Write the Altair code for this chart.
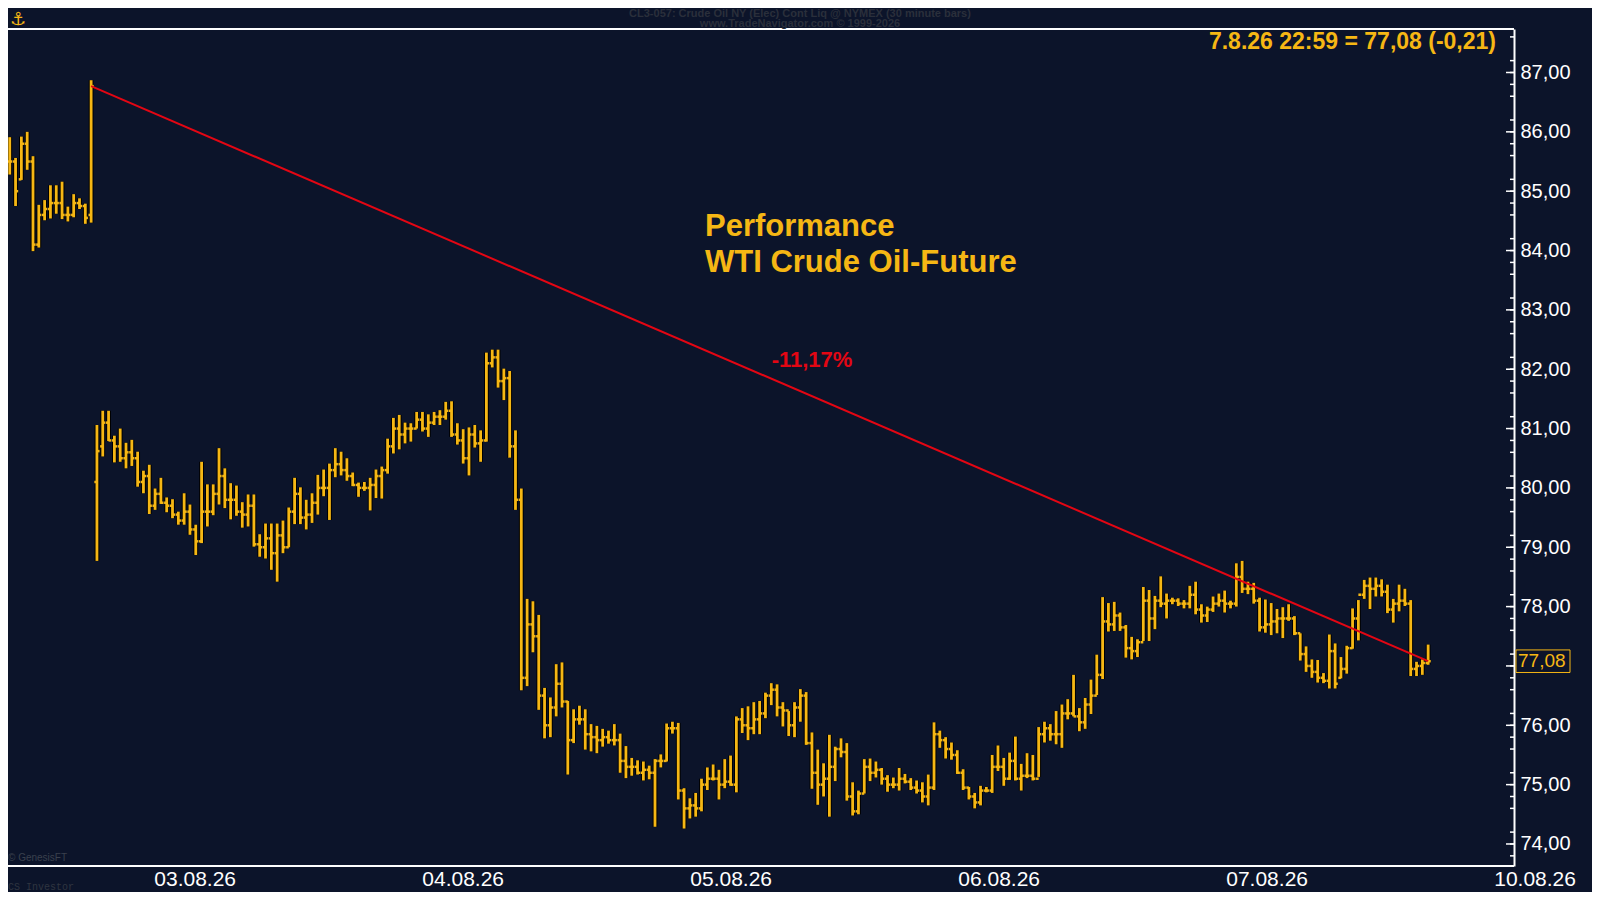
import altair as alt
import pandas as pd

# ---------------- data (30-minute OHLC bars) ----------------
high = [
    85.91, 85.56, 85.92, 86.00, 85.59, 84.77, 84.85, 85.10, 85.10, 85.16, 84.74, 84.95, 84.88, 84.79, 86.87,
    81.06, 81.30, 81.30, 80.88, 81.00, 80.76, 80.81, 80.61, 80.29, 80.39, 79.99, 80.17, 79.84, 79.81, 79.60,
    79.91, 79.72, 79.38, 80.44, 80.06, 80.06, 80.67, 80.33, 80.08, 80.04, 79.76, 79.89, 79.89, 79.22, 79.40,
    79.40, 79.40, 79.45, 79.67, 80.17, 80.01, 79.80, 79.91, 80.22, 80.31, 80.41, 80.67, 80.61, 80.50, 80.26,
    80.09, 80.10, 80.17, 80.31, 80.36, 80.83, 81.18, 81.23, 81.10, 81.09, 81.28, 81.28, 81.24, 81.28, 81.31,
    81.45, 81.46, 81.09, 80.99, 81.02, 81.06, 80.97, 82.28, 82.33, 82.33, 82.01, 81.97, 80.97, 79.99, 78.13,
    78.09, 77.86, 76.63, 76.47, 77.03, 77.06, 76.41, 76.27, 76.33, 76.27, 76.02, 75.99, 75.94, 75.91, 76.02,
    75.86, 75.65, 75.45, 75.41, 75.39, 75.32, 75.43, 75.51, 76.03, 76.06, 76.04, 74.94, 74.77, 74.86, 75.10,
    75.29, 75.34, 75.25, 75.43, 75.49, 76.15, 76.29, 76.32, 76.39, 76.41, 76.55, 76.71, 76.69, 76.39, 76.24,
    76.39, 76.61, 76.56, 75.88, 75.59, 75.36, 75.84, 75.64, 75.78, 75.70, 75.04, 74.90, 75.43, 75.44, 75.39,
    75.28, 75.16, 75.12, 75.28, 75.18, 75.11, 75.07, 75.04, 75.17, 76.05, 75.91, 75.80, 75.71, 75.58, 75.26,
    74.96, 74.86, 74.98, 74.96, 75.50, 75.66, 75.45, 75.54, 75.81, 75.35, 75.53, 75.50, 75.97, 76.06, 76.02,
    76.24, 76.35, 76.44, 76.85, 76.29, 76.46, 76.77, 77.19, 78.16, 78.06, 78.08, 77.90, 77.69, 77.49, 77.45,
    78.33, 78.28, 78.18, 78.51, 78.22, 78.15, 78.14, 78.11, 78.35, 78.42, 78.04, 78.00, 78.17, 78.22, 78.27,
    78.10, 78.73, 78.77, 78.42, 78.40, 78.15, 78.12, 78.06, 77.96, 77.99, 78.04, 77.84, 77.55, 77.33, 77.11,
    77.10, 76.88, 77.53, 77.38, 77.15, 77.34, 77.97, 78.11, 78.45, 78.49, 78.49, 78.46, 78.37, 78.13, 78.37,
    78.30, 78.11, 77.07, 77.11, 77.36,
]
low = [
    85.28, 84.75, 85.19, 85.36, 83.99, 84.05, 84.51, 84.54, 84.62, 84.53, 84.49, 84.56, 84.70, 84.45, 84.47,
    78.77, 80.53, 80.79, 80.43, 80.44, 80.33, 80.37, 80.02, 79.91, 79.56, 79.63, 79.73, 79.59, 79.49, 79.38,
    79.38, 79.21, 78.87, 79.07, 79.35, 79.54, 79.72, 79.66, 79.47, 79.53, 79.33, 79.35, 79.01, 78.84, 78.81,
    78.62, 78.42, 78.90, 79.00, 79.39, 79.39, 79.30, 79.41, 79.55, 79.86, 79.46, 80.18, 80.21, 80.12, 80.03,
    79.85, 79.95, 79.62, 79.83, 79.82, 80.24, 80.58, 80.65, 80.75, 80.78, 81.00, 80.95, 80.86, 81.06, 81.06,
    81.15, 80.86, 80.73, 80.41, 80.21, 80.68, 80.44, 80.78, 82.03, 81.69, 81.48, 80.51, 79.63, 76.59, 76.66,
    77.23, 76.26, 75.78, 75.80, 76.15, 76.30, 75.17, 75.70, 76.01, 75.59, 75.56, 75.53, 75.64, 75.69, 75.66,
    75.20, 75.11, 75.15, 75.17, 75.07, 75.09, 74.29, 75.29, 75.39, 75.86, 74.75, 74.26, 74.43, 74.46, 74.55,
    74.91, 75.07, 74.75, 74.94, 74.98, 74.87, 75.87, 75.75, 75.85, 75.85, 76.12, 76.34, 76.15, 75.98, 75.82,
    75.80, 76.06, 75.67, 74.93, 74.66, 74.80, 74.46, 75.06, 75.46, 74.73, 74.48, 74.50, 74.85, 75.06, 75.12,
    75.00, 74.88, 74.94, 74.90, 75.02, 74.91, 74.85, 74.70, 74.65, 74.91, 75.62, 75.44, 75.42, 75.18, 74.91,
    74.75, 74.60, 74.65, 74.87, 74.86, 75.23, 74.98, 75.08, 75.07, 74.90, 75.11, 75.07, 75.13, 75.71, 75.74,
    75.68, 75.62, 76.10, 76.15, 75.90, 75.94, 76.19, 76.51, 76.78, 77.58, 77.59, 77.59, 77.14, 77.11, 77.15,
    77.42, 77.42, 77.62, 77.99, 77.80, 78.04, 78.01, 77.97, 77.97, 77.87, 77.73, 77.74, 77.91, 78.00, 77.90,
    77.97, 78.00, 78.23, 78.21, 78.05, 77.58, 77.56, 77.52, 77.55, 77.47, 77.76, 77.52, 77.09, 76.90, 76.80,
    76.72, 76.71, 76.62, 76.62, 76.79, 76.87, 77.29, 77.43, 78.13, 77.96, 78.17, 78.17, 77.89, 77.73, 77.92,
    78.01, 76.83, 76.83, 76.85, 77.02,
]
opens = [
    85.5, 85.5, 85.2, 85.8, 85.5, 84.1, 84.6, 84.7, 84.8, 84.8, 84.6, 84.6, 84.8, 84.75, 84.6,
    80.1, 80.7, 81.1, 80.8, 80.7, 80.5, 80.6, 80.5, 80.1, 80.2, 79.7, 79.9, 79.75, 79.7, 79.55,
    79.45, 79.6, 79.3, 79.1, 79.6, 79.6, 79.9, 80.2, 79.8, 79.8, 79.6, 79.55, 79.7, 79.05, 79.0,
    79.15, 78.9, 79.2, 79.0, 79.6, 79.9, 79.5, 79.55, 79.75, 80.0, 80.0, 80.3, 80.4, 80.3, 80.2,
    80.05, 80.0, 80.0, 80.05, 80.2, 80.3, 80.7, 81.0, 80.9, 81.0, 81.0, 81.15, 81.0, 81.1, 81.2,
    81.2, 81.3, 80.9, 80.8, 80.5, 80.9, 80.75, 80.8, 82.1, 82.2, 81.8, 81.85, 80.7, 79.8, 76.8,
    77.7, 77.5, 76.5, 76.0, 76.3, 76.7, 76.4, 75.75, 76.1, 76.1, 75.85, 75.8, 75.75, 75.8, 75.75,
    75.75, 75.4, 75.3, 75.3, 75.2, 75.25, 75.2, 75.4, 75.4, 75.95, 75.95, 74.9, 74.6, 74.65, 74.6,
    75.0, 75.1, 75.1, 75.0, 75.05, 75.0, 76.1, 76.0, 75.95, 76.1, 76.2, 76.5, 76.6, 76.3, 76.25,
    76.0, 76.3, 76.5, 75.7, 75.2, 75.0, 75.1, 75.3, 75.6, 75.55, 74.8, 74.55, 74.85, 75.3, 75.2,
    75.25, 75.1, 75.0, 75.0, 75.1, 75.05, 74.95, 74.9, 74.8, 74.95, 75.85, 75.75, 75.6, 75.5, 75.2,
    74.95, 74.8, 74.7, 74.9, 74.9, 75.3, 75.3, 75.1, 75.4, 75.1, 75.15, 75.15, 75.1, 75.85, 75.95,
    75.85, 75.85, 76.2, 76.2, 76.15, 76.05, 76.35, 76.5, 76.85, 77.75, 77.7, 77.85, 77.65, 77.3, 77.25,
    77.4, 78.1, 77.8, 78.1, 78.05, 78.1, 78.1, 78.05, 78.05, 78.2, 77.95, 77.85, 77.95, 78.05, 78.1,
    78.05, 78.05, 78.5, 78.3, 78.3, 78.1, 77.65, 77.7, 77.75, 77.8, 77.8, 77.8, 77.55, 77.2, 77.0,
    76.9, 76.8, 76.75, 77.25, 76.8, 76.95, 77.3, 77.8, 78.2, 78.35, 78.3, 78.35, 78.25, 77.95, 78.05,
    78.1, 78.05, 76.95, 77.0, 77.05,
]
closes = [
    85.5, 85.0, 85.8, 85.5, 84.1, 84.6, 84.7, 84.8, 84.8, 84.6, 84.6, 84.8, 84.75, 84.55, 86.77,
    80.62, 81.1, 80.8, 80.7, 80.5, 80.6, 80.5, 80.1, 80.2, 79.7, 79.9, 79.75, 79.7, 79.55, 79.45,
    79.6, 79.3, 79.1, 79.6, 79.6, 79.9, 80.2, 79.8, 79.8, 79.6, 79.55, 79.7, 79.05, 79.0, 79.15,
    78.9, 79.2, 79.0, 79.6, 79.9, 79.5, 79.55, 79.75, 80.0, 80.0, 80.3, 80.4, 80.3, 80.2, 80.05,
    80.0, 80.0, 80.05, 80.2, 80.3, 80.7, 81.0, 80.9, 81.0, 81.0, 81.15, 81.0, 81.1, 81.2, 81.2,
    81.3, 80.9, 80.8, 80.5, 80.9, 80.75, 80.8, 82.1, 82.2, 81.8, 81.85, 80.7, 79.8, 76.8, 77.7,
    77.5, 76.5, 76.0, 76.3, 76.7, 76.4, 75.75, 76.1, 76.1, 75.85, 75.8, 75.75, 75.8, 75.75, 75.75,
    75.4, 75.3, 75.3, 75.2, 75.25, 75.2, 75.4, 75.4, 75.95, 75.95, 74.9, 74.6, 74.65, 74.6, 75.0,
    75.1, 75.1, 75.0, 75.05, 75.0, 76.1, 76.0, 75.95, 76.1, 76.2, 76.5, 76.6, 76.3, 76.25, 76.0,
    76.3, 76.5, 75.7, 75.2, 75.0, 75.1, 75.3, 75.6, 75.55, 74.8, 74.55, 74.85, 75.3, 75.2, 75.25,
    75.1, 75.0, 75.0, 75.1, 75.05, 74.95, 74.9, 74.8, 74.95, 75.85, 75.75, 75.6, 75.5, 75.2, 74.95,
    74.8, 74.7, 74.9, 74.9, 75.3, 75.3, 75.1, 75.4, 75.1, 75.15, 75.15, 75.1, 75.85, 75.95, 75.85,
    75.85, 76.2, 76.2, 76.15, 76.05, 76.35, 76.5, 76.85, 77.75, 77.7, 77.85, 77.65, 77.3, 77.25, 77.4,
    78.1, 77.8, 78.1, 78.05, 78.1, 78.1, 78.05, 78.05, 78.2, 77.95, 77.85, 77.95, 78.05, 78.1, 78.05,
    78.05, 78.5, 78.3, 78.3, 78.1, 77.65, 77.7, 77.75, 77.8, 77.8, 77.8, 77.55, 77.2, 77.0, 76.9,
    76.8, 76.75, 77.25, 76.7, 76.95, 77.3, 77.8, 78.2, 78.35, 78.3, 78.35, 78.25, 77.95, 78.05, 78.1,
    78.05, 76.95, 77.0, 77.05, 77.08,
]
bar_index = list(range(len(high)))

# performance line (from close of the spike bar to the last close)
perf_index = [14, 244]
perf_price = [86.77, 77.08]

# axis ticks / labels
y_major = [74, 75, 76, 77, 78, 79, 80, 81, 82, 83, 84, 85, 86, 87]
y_minor = [round(73.8 + 0.2 * k, 1) for k in range(70) if (2 + k) % 5 != 0]
x_label_pos = [31.9, 78.0, 124.1, 170.2, 216.3, 262.4]
x_label_txt = ["03.08.26", "04.08.26", "05.08.26", "06.08.26", "07.08.26", "10.08.26"]

last_price = [77.08]
info_text = ["7.8.26 22:59 = 77,08 (-0,21)"]
title_lines = ["Performance", "WTI Crude Oil-Future"]
perf_label = ["-11,17%"]
header_lines = ["CL3-057:  Crude Oil NY (Elec) Cont Liq @ NYMEX  (30 minute bars)",
                "www.TradeNavigator.com \u00a9 1999-2026"]

# ---------------- styling ----------------
W, H = 1506, 837
BG = "#0c142a"
GOLD = "#f6b714"
RED = "#e30613"
FONT = "Liberation Sans"

xs = alt.Scale(domain=[-0.3, 258.77], nice=False, zero=False)
ys = alt.Scale(domain=[73.629, 87.733], nice=False, zero=False)

# the 77,00 label sits under the last-price box, as in the original
y_axis = alt.Axis(
    orient="right", values=y_major,
    labelExpr="datum.value == 77 ? '' : replace(format(datum.value, '.2f'), '.', ',')",
    labelColor="white", labelFontSize=20, labelFont=FONT, labelPadding=6,
    domainColor="white", domainWidth=2, ticks=False, grid=False, title="",
)


def Y(field):
    return alt.Y(field, scale=ys, axis=y_axis)


def X(field):
    return alt.X(field, scale=xs, axis=None)


df = pd.DataFrame({"i": bar_index, "o": opens, "h": high, "l": low, "c": closes})
base = alt.Chart(df).transform_calculate(xo="datum.i - 0.45", xc="datum.i + 0.45")

outline = base.mark_rule(color="#000000", strokeWidth=4.8).encode(x=X("i:Q"), y=Y("l:Q"), y2="h:Q")
body = base.mark_rule(color=GOLD, strokeWidth=2.8).encode(x=X("i:Q"), y=Y("l:Q"), y2="h:Q")
open_tick = base.mark_rule(color=GOLD, strokeWidth=2.5).encode(x=X("xo:Q"), x2="i:Q", y=Y("o:Q"))
close_tick = base.mark_rule(color=GOLD, strokeWidth=2.5).encode(x=X("i:Q"), x2="xc:Q", y=Y("c:Q"))

perf = alt.Chart(pd.DataFrame({"i": perf_index, "p": perf_price})).mark_line(
    color=RED, strokeWidth=2
).encode(x=X("i:Q"), y=Y("p:Q"))

major_ticks = alt.Chart(pd.DataFrame({"v": y_major})).mark_rule(color="white", strokeWidth=1.5).encode(
    y=Y("v:Q"), x=alt.value(W - 8), x2=alt.value(W)
)
minor_ticks = alt.Chart(pd.DataFrame({"v": y_minor})).mark_rule(color="white", strokeWidth=1.5).encode(
    y=Y("v:Q"), x=alt.value(W - 4), x2=alt.value(W)
)

frame_top = alt.Chart(pd.DataFrame({"k": [0]})).mark_rule(color="white", strokeWidth=2).encode(
    x=alt.value(0), x2=alt.value(W), y=alt.value(0)
)
frame_bottom = alt.Chart(pd.DataFrame({"k": [0]})).mark_rule(color="white", strokeWidth=2).encode(
    x=alt.value(0), x2=alt.value(W), y=alt.value(H)
)

x_labels = alt.Chart(pd.DataFrame({"pos": x_label_pos, "lab": x_label_txt})).mark_text(
    color="white", font=FONT, fontSize=21, baseline="middle", align="center"
).encode(x=X("pos:Q"), y=alt.value(H + 14), text="lab:N")

lp = pd.DataFrame({"p": last_price, "t": ["77,08"]})
lp_box = alt.Chart(lp).transform_calculate(lo="datum.p - 0.19", hi="datum.p + 0.19").mark_rect(
    fill=BG, stroke=GOLD, strokeWidth=1
).encode(x=alt.value(W + 2), x2=alt.value(W + 56), y=Y("lo:Q"), y2="hi:Q")
lp_text = alt.Chart(lp).mark_text(
    color=GOLD, font=FONT, fontSize=19, align="left", baseline="middle"
).encode(x=alt.value(W + 4), y=Y("p:Q"), text="t:N")

info = alt.Chart(pd.DataFrame({"t": info_text})).mark_text(
    color=GOLD, font=FONT, fontSize=23, fontWeight="bold", align="right", baseline="alphabetic"
).encode(x=alt.value(1488), y=alt.value(20), text="t:N")

titles = alt.Chart(pd.DataFrame({"t": title_lines, "yy": [207, 243]})).mark_text(
    color=GOLD, font=FONT, fontSize=31, fontWeight="bold", align="left", baseline="alphabetic"
).encode(x=alt.value(697), y=alt.Y("yy:Q", scale=None), text="t:N")

perf_text = alt.Chart(pd.DataFrame({"t": perf_label})).mark_text(
    color=RED, font=FONT, fontSize=22, fontWeight="bold", align="center", baseline="alphabetic"
).encode(x=alt.value(804), y=alt.value(338), text="t:N")

header = alt.Chart(pd.DataFrame({"t": header_lines, "yy": [-15, -5]})).mark_text(
    color="#2a2f3b", font=FONT, fontSize=11, fontWeight="bold", align="center", baseline="middle"
).encode(x=alt.value(792), y=alt.Y("yy:Q", scale=None), text="t:N")

logo = alt.Chart(pd.DataFrame({"t": ["\u2693"]})).mark_text(
    color=GOLD, font="DejaVu Sans", fontSize=18, align="center", baseline="middle"
).encode(x=alt.value(10), y=alt.value(-9), text="t:N")

genesis = alt.Chart(pd.DataFrame({"t": ["\u00a9 GenesisFT"]})).mark_text(
    color="#3a404d", font=FONT, fontSize=10, align="left", baseline="middle"
).encode(x=alt.value(0), y=alt.value(H - 8), text="t:N")

cs = alt.Chart(pd.DataFrame({"t": ["CS Investor"]})).mark_text(
    color="#2f3440", font="Liberation Mono", fontSize=10, align="left", baseline="middle"
).encode(x=alt.value(0), y=alt.value(H + 21), text="t:N")

chart = alt.layer(
    outline, body, open_tick, close_tick, perf,
    major_ticks, minor_ticks, frame_top, frame_bottom,
    x_labels, lp_box, lp_text, info, titles, perf_text, header, logo, genesis, cs,
).properties(
    width=W, height=H,
    padding={"left": 0, "top": 21, "right": 78, "bottom": 26},
    autosize=alt.AutoSizeParams(type="none"),
    background=BG,
).configure_view(stroke="transparent")

chart.save("out.html", embed_options={"renderer": "svg", "actions": False})
